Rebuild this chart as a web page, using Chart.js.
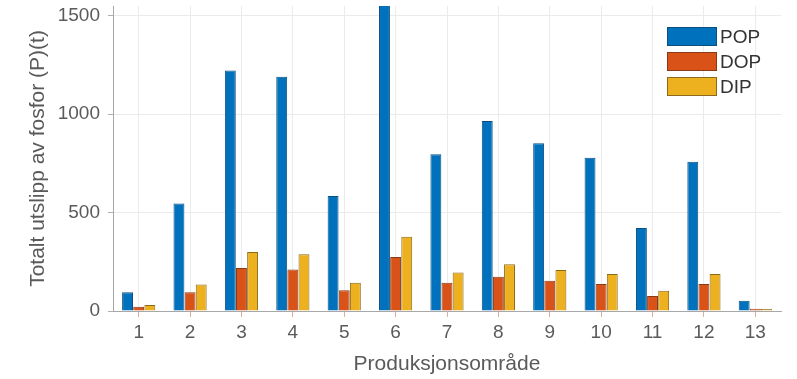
<!DOCTYPE html>
<html>
<head>
<meta charset="utf-8">
<script src="https://cdn.jsdelivr.net/npm/chart.js@4/dist/chart.umd.min.js"></script>
<style>
  html, body { margin: 0; padding: 0; background: #fff; }
  #wrap { width: 797px; height: 379px; }
</style>
</head>
<body>
<div id="wrap"><canvas id="c" width="797" height="379"></canvas></div>
<script>
// Production areas 1–13 and phosphorus emissions per fraction (tonnes)
const omrader = ['1','2','3','4','5','6','7','8','9','10','11','12','13'];
const pop = [95, 546, 1222, 1190, 584, 1580, 796, 966, 853, 779, 422, 759, 52];
const dop = [22, 95, 219, 211, 106, 275, 143, 174, 154, 137, 76, 137, 12];
const dip = [30, 135, 300, 289, 143, 377, 196, 238, 208, 188, 103, 188, 10];
const yTicks = [0, 500, 1000, 1500];

const FONT = '"Liberation Sans", Arial, Helvetica, sans-serif';

// Legend drawn inside the plot area, top right
const innerLegend = {
  id: 'innerLegend',
  afterDraw(chart) {
    const ctx = chart.ctx;
    const x0 = 667, y0 = 27, w = 50, h = 19, step = 25;
    ctx.save();
    chart.data.datasets.forEach((ds, i) => {
      const y = y0 + i * step;
      ctx.fillStyle = ds.backgroundColor;
      ctx.fillRect(x0, y, w, h);
      ctx.strokeStyle = ds.borderColor;
      ctx.lineWidth = 1;
      ctx.strokeRect(x0 + 0.5, y + 0.5, w - 1, h - 1);
      ctx.fillStyle = '#333';
      ctx.font = '19px ' + FONT;
      ctx.textBaseline = 'middle';
      ctx.textAlign = 'left';
      ctx.fillText(ds.label, x0 + w + 3, y + h / 2 + 1);
    });
    ctx.restore();
  }
};

new Chart(document.getElementById('c'), {
  type: 'bar',
  data: {
    labels: omrader,
    datasets: [
      { label: 'POP', data: pop, backgroundColor: '#0072BD', borderColor: '#0b4f80', borderWidth: 1 },
      { label: 'DOP', data: dop, backgroundColor: '#D95319', borderColor: '#8a3a17', borderWidth: 1 },
      { label: 'DIP', data: dip, backgroundColor: '#EDB120', borderColor: '#8c6a1c', borderWidth: 1 }
    ]
  },
  options: {
    responsive: false,
    animation: false,
    layout: { padding: { left: 0, right: 16, top: 6, bottom: 0 } },
    plugins: {
      legend: { display: false },
      tooltip: { enabled: false }
    },
    datasets: {
      bar: { categoryPercentage: 0.65, barPercentage: 0.98 }
    },
    scales: {
      x: {
        offset: true,
        grid: {
          offset: false,
          color: '#ebebeb',
          tickColor: '#d9b0a0',
          tickLength: 6,
          drawTicks: true
        },
        border: { color: '#a8a8a8', width: 1 },
        ticks: {
          color: '#5a5a5a',
          font: { family: FONT, size: 19 },
          padding: 4,
          maxRotation: 0
        },
        title: {
          display: true,
          text: 'Produksjonsområde',
          color: '#5a5a5a',
          font: { family: FONT, size: 21 },
          padding: { top: 0, bottom: 2 }
        },
        afterFit(scale) {
          scale.height = 68;
          scale.paddingLeft = 0;
          scale.paddingRight = 0;
        }
      },
      y: {
        min: 0,
        max: 1550,
        afterBuildTicks(scale) { scale.ticks = yTicks.map(v => ({ value: v })); },
        grid: {
          color: '#ebebeb',
          tickColor: '#b0b0b0',
          tickLength: 5
        },
        border: { color: '#a8a8a8', width: 1 },
        ticks: {
          color: '#5a5a5a',
          font: { family: FONT, size: 19 },
          padding: 8,
          callback: (v) => String(v)
        },
        title: {
          display: true,
          text: 'Totalt utslipp av fosfor (P)(t)',
          color: '#5a5a5a',
          font: { family: FONT, size: 21 },
          padding: { top: 26, bottom: 0 }
        },
        afterFit(scale) {
          scale.width = 113;
          scale.paddingTop = 0;
          scale.paddingBottom = 0;
        }
      }
    }
  },
  plugins: [innerLegend]
});
</script>
</body>
</html>
